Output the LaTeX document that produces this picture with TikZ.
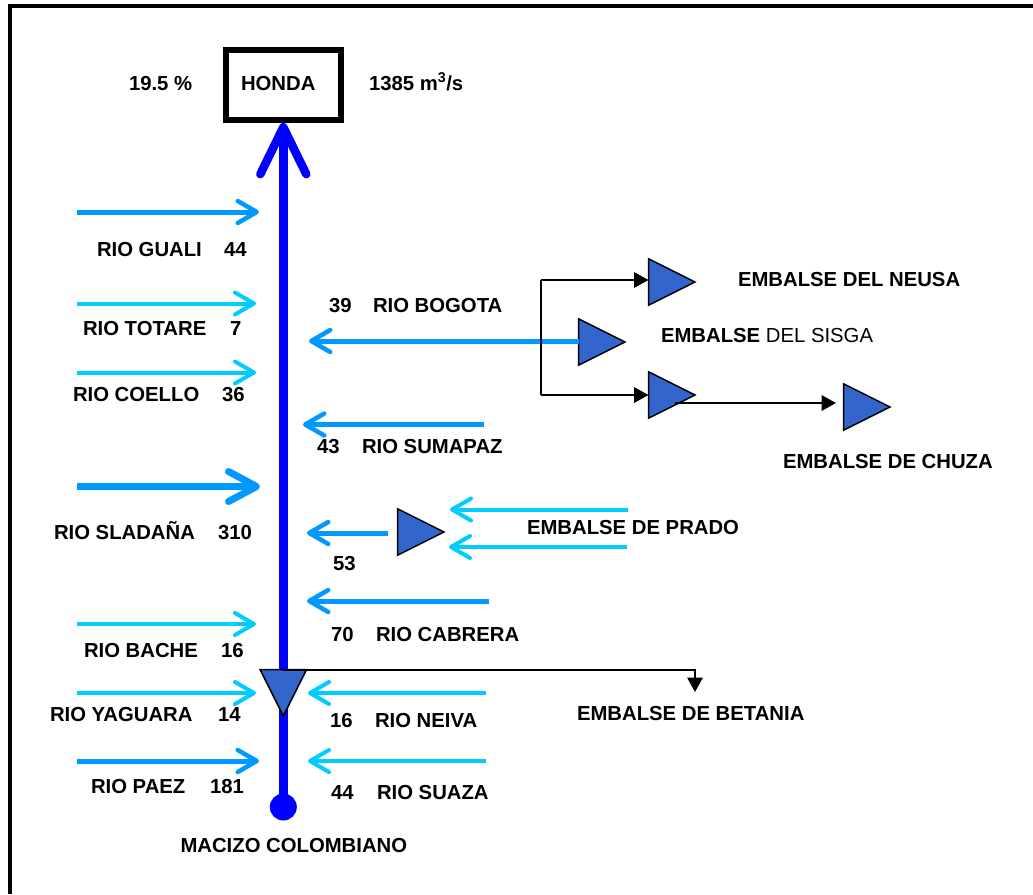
\documentclass[tikz,border=0pt]{standalone}
\usepackage{fontspec}
\setmainfont{Liberation Sans}
\usetikzlibrary{arrows.meta,shapes.geometric,calc}
\definecolor{mainblue}{HTML}{0000FF}
\definecolor{riverblue}{HTML}{0099FF}
\definecolor{rivercyan}{HTML}{00CCFF}
\definecolor{resfill}{HTML}{3366CC}
\tikzset{
  lbl/.style={anchor=base west,inner sep=0pt,outer sep=0pt,font=\fontsize{20.3}{24}\selectfont\bfseries},
  res/.style={shape=isosceles triangle,isosceles triangle apex angle=53.13,draw=black,line width=1.5pt,fill=resfill,inner sep=0pt,outer sep=0pt,minimum height=46.5pt,minimum width=46.5pt,anchor=apex},
  riverb/.style={draw=riverblue,line width=5pt,-{Straight Barb[length=19pt,width=22pt,line width=4.5pt,round]}},
  riverc/.style={draw=rivercyan,line width=4pt,-{Straight Barb[length=19pt,width=22pt,line width=4pt,round]}},
  riverbig/.style={draw=riverblue,line width=7.5pt,-{Straight Barb[length=28pt,width=30pt,line width=7pt,round]}},
  mainriver/.style={draw=mainblue,line width=9pt,-{Straight Barb[length=47pt,width=46pt,line width=8.5pt,round]}},
  thin/.style={draw=black,line width=2pt},
  thinarrow/.style={draw=black,line width=2pt,-{Triangle[length=14.5pt,width=15.5pt]}}
}
\begin{document}
\begin{tikzpicture}[x=1pt,y=-1pt]
\useasboundingbox (0,0) rectangle (1033,894);
% frame
\draw[line width=4pt,black] (9.8,894) -- (9.8,6.3) -- (1033,6.3);
% Honda
\node[draw=black,line width=6pt,minimum width=115pt,minimum height=69.5pt,inner sep=0pt,outer sep=3pt] (honda) at (283.3,85.2) {};
\node[lbl] (hondat) at (241,90) {HONDA};
\node[lbl] (pct) at (129,90) {19.5 \%};
\node[lbl] (flow) at (369,90) {1385 m\textsuperscript{3}/s};
% source and main river
\node[circle,fill=mainblue,minimum size=27pt,inner sep=0pt] (macizo) at (283.3,807) {};
\draw[mainriver] (macizo.center) -- (honda.south);
\node[lbl] (macizot) at (180.5,852) {MACIZO COLOMBIANO};
% reservoirs
\node[res] (neusa) at (695,282) {};
\node[res] (sisga) at (625,342) {};
\node[res] (tomine) at (695,395) {};
\node[res] (chuza) at (890,407) {};
\node[res] (prado) at (444,532) {};
\node[res,shape border rotate=270] (betania) at (283.3,716) {};
% left tributaries
\coordinate (l1s) at (77,212);   \coordinate (l1e) at (259,212);
\coordinate (l2s) at (77,303.5); \coordinate (l2e) at (256,303.5);
\coordinate (l3s) at (77,372.5); \coordinate (l3e) at (256,372.5);
\coordinate (l4s) at (77,486.5); \coordinate (l4e) at (260,486.5);
\coordinate (l5s) at (77,624);   \coordinate (l5e) at (256,624);
\coordinate (l6s) at (77,693);   \coordinate (l6e) at (256,693);
\coordinate (l7s) at (77,761);   \coordinate (l7e) at (259,761);
\draw[riverb] (l1s) -- (l1e);
\draw[riverc] (l2s) -- (l2e);
\draw[riverc] (l3s) -- (l3e);
\draw[riverbig] (l4s) -- (l4e);
\draw[riverc] (l5s) -- (l5e);
\draw[riverc] (l6s) -- (l6e);
\draw[riverb] (l7s) -- (l7e);
% right tributaries
\coordinate (r1e) at (309,341);
\coordinate (r2s) at (484,424.5); \coordinate (r2e) at (303,424.5);
\coordinate (r3s) at (388,533);   \coordinate (r3e) at (307,533);
\coordinate (r4s) at (628,509.5); \coordinate (r4e) at (450,509.5);
\coordinate (r5s) at (627,547);   \coordinate (r5e) at (449,547);
\coordinate (r6s) at (489,601);   \coordinate (r6e) at (307,601);
\coordinate (r7s) at (486,693);   \coordinate (r7e) at (308,693);
\coordinate (r8s) at (486,761);   \coordinate (r8e) at (308,761);
\draw[riverb] (sisga.lower side |- r1e) -- (r1e);
\draw[riverb] (r2s) -- (r2e);
\draw[riverb] (r3s) -- (r3e);
\draw[riverc] (r4s) -- (r4e);
\draw[riverc] (r5s) -- (r5e);
\draw[riverb] (r6s) -- (r6e);
\draw[riverc] (r7s) -- (r7e);
\draw[riverc] (r8s) -- (r8e);
% black connectors
\coordinate (bt) at (541,280);
\coordinate (bb) at (541,395);
\coordinate (ch) at (675,403);
\coordinate (che) at (836,403);
\coordinate (bet2) at (695,692);
\draw[thin] (bt) -- (bb);
\draw[thinarrow] (bt) -- (bt -| neusa.lower side);
\draw[thinarrow] (bb) -- (bb -| tomine.lower side);
\draw[thinarrow] (ch) -- (che);
\draw[thinarrow] (betania.lower side) -- (bet2 |- betania.lower side) -- (bet2);
% labels
\node[lbl] (t1) at (97,256) {RIO GUALI};      \node[lbl] (n1) at (224,256) {44};
\node[lbl] (t2) at (83,335) {RIO TOTARE};     \node[lbl] (n2) at (230,335) {7};
\node[lbl] (t3) at (73,401) {RIO COELLO};     \node[lbl] (n3) at (222,401) {36};
\node[lbl] (t4) at (54,539) {RIO SLADAÑA};    \node[lbl] (n4) at (218,539) {310};
\node[lbl] (t5) at (84,657) {RIO BACHE};      \node[lbl] (n5) at (221,657) {16};
\node[lbl] (t6) at (50,721) {RIO YAGUARA};    \node[lbl] (n6) at (218,721) {14};
\node[lbl] (t7) at (91,793) {RIO PAEZ};       \node[lbl] (n7) at (210,793) {181};
\node[lbl] (n8) at (329,312) {39};   \node[lbl] (t8) at (373,312) {RIO BOGOTA};
\node[lbl] (n9) at (317,453) {43};   \node[lbl] (t9) at (362,453) {RIO SUMAPAZ};
\node[lbl] (n10) at (333,570) {53};
\node[lbl] (n11) at (331,641) {70};  \node[lbl] (t11) at (376,641) {RIO CABRERA};
\node[lbl] (n12) at (330,727) {16};  \node[lbl] (t12) at (375,727) {RIO NEIVA};
\node[lbl] (n13) at (331,799) {44};  \node[lbl] (t13) at (377,799) {RIO SUAZA};
\node[lbl] (e1) at (738,286) {EMBALSE DEL NEUSA};
\node[lbl] (e2) at (661,342) {EMBALSE {\mdseries DEL SISGA}};
\node[lbl] (e3) at (783,468) {EMBALSE DE CHUZA};
\node[lbl] (e4) at (527,534) {EMBALSE DE PRADO};
\node[lbl] (e5) at (577,720) {EMBALSE DE BETANIA};
\end{tikzpicture}
\end{document}
